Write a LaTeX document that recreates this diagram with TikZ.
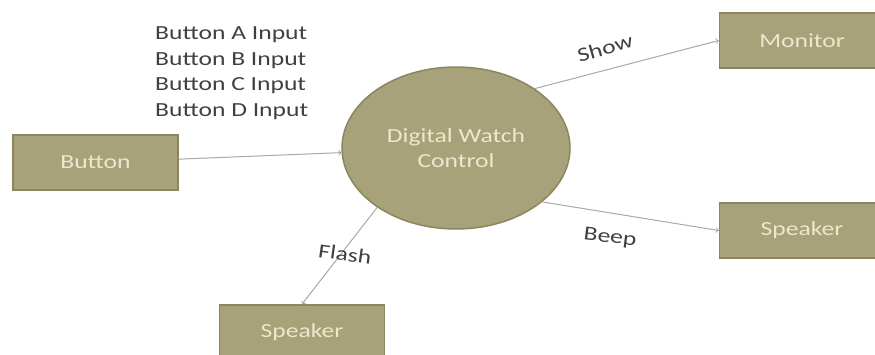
\documentclass[tikz,border=0pt]{standalone}
\usepackage{fontspec}
\setmainfont{Carlito}[FakeStretch=1.28]
\usetikzlibrary{shapes.geometric}
\definecolor{olive}{RGB}{167,162,122}
\definecolor{olivedark}{RGB}{138,134,98}
\definecolor{cream}{RGB}{236,232,205}
\definecolor{flowline}{RGB}{168,168,168}
\definecolor{labeltext}{RGB}{64,64,64}
\tikzset{
	box/.style={rectangle, fill=olive, draw=olivedark, line width=1.5pt, minimum width=165pt, minimum height=55pt, inner sep=0pt, text=cream},
	proc/.style={ellipse, fill=olive, draw=olivedark, line width=1.5pt, minimum width=228pt, minimum height=162pt, inner sep=0pt, text=cream, align=center},
	flow/.style={->, draw=flowline, line width=1pt},
	lbl/.style={text=labeltext, inner sep=0pt}
}
\begin{document}
\begin{tikzpicture}[x=1pt,y=-1pt,font=\fontsize{20}{25.6}\selectfont]
	\useasboundingbox (0,0) rectangle (875,354);
	% EXTERNAL ENTITIES
	\node[box] (btn) at (95.5,162.5) {Button};
	\node[box] (mon) at (802,40.5) {Monitor};
	\node[box] (spkr) at (802,230.5) {Speaker};
	\node[box] (spkb) at (302,332.5) {Speaker};

	% PROCESS
	\node[proc] (dwc) at (456,148) {Digital Watch\\Control};

	% DATA FLOWS
	\draw[flow] (btn) -- (dwc);
	\draw[flow] (dwc.37) -- (mon.west);
	\draw[flow] (dwc.-32) -- (spkr.west);
	\draw[flow] (dwc.217) -- (spkb.north);

	% FLOW LABELS
	\node[lbl, anchor=north west, align=left] (inputs) at (155,26.5) {Button A Input\\Button B Input\\Button C Input\\Button D Input};
	\node[lbl, rotate=16] (show) at (605,48) {Show};
	\node[lbl, rotate=-7] (beep) at (610,238) {Beep};
	\node[lbl, rotate=-8] (flash) at (345,254) {Flash};
\end{tikzpicture}
\end{document}
